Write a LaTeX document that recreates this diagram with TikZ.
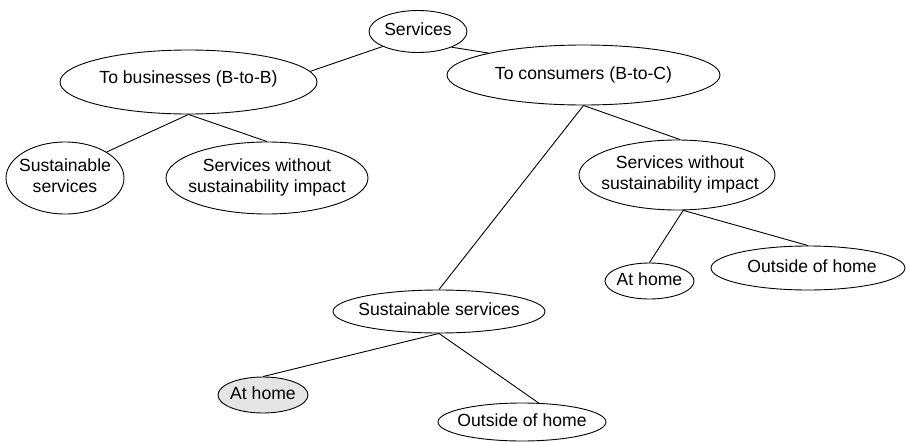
\documentclass[tikz,border=0pt]{standalone}
\usepackage{fontspec}
\setmainfont{Liberation Sans}
\usetikzlibrary{shapes.geometric}
% #1: twice the upward shift of the text
\newcommand\eltext[2][0pt]{\raisebox{#1}{\makebox[0pt]{\begin{tabular}{@{}c@{}}#2\end{tabular}}}}
\begin{document}
\begin{tikzpicture}[x=1pt,y=-1pt,
  ell/.style={draw, ellipse, inner sep=0pt, line width=0.9pt,
    font=\fontsize{17.6}{21}\selectfont},
  link/.style={line width=0.9pt}]
\useasboundingbox (0,0) rectangle (906,442);
\node[ell, minimum width=98, minimum height=42] (srv) at (418,31.5) {\eltext{Services}};
\node[ell, minimum width=257, minimum height=64] (b2b) at (188.5,82) {\eltext[12pt]{To businesses (B-to-B)}};
\node[ell, minimum width=273, minimum height=60] (b2c) at (583.5,75) {\eltext{To consumers (B-to-C)}};
\node[ell, minimum width=118, minimum height=72] (bss) at (65,178) {\eltext[8pt]{Sustainable\\services}};
\node[ell, minimum width=202, minimum height=72] (bnon) at (267,178) {\eltext{Services without\\sustainability impact}};
\node[ell, minimum width=196, minimum height=70] (cnon) at (677,175) {\eltext{\hspace{6pt}Services without\\\hspace{6pt}sustainability impact}};
\node[ell, minimum width=89, minimum height=36] (cah) at (649.5,281) {\eltext{At home}};
\node[ell, minimum width=194, minimum height=44] (cout) at (808,268) {\eltext{\hspace{8pt}Outside of home}};
\node[ell, minimum width=212, minimum height=43] (csus) at (439,311.5) {\eltext{Sustainable services}};
\node[ell, minimum width=90, minimum height=36, fill=black!10] (bah) at (263,395) {\eltext{At home}};
\node[ell, minimum width=168, minimum height=38] (bout) at (522,422) {\eltext{Outside of home}};
\draw[link] (srv.203) -- (b2b.5);
\draw[link] (srv.335) -- (b2c.167);
\draw[link] (b2b.south) -- (bss.32);
\draw[link] (b2b.south) -- (bnon.north);
\draw[link] (b2c.south) -- (cnon.85);
\draw[link] (b2c.south) -- (csus.north);
\draw[link] (cnon.-80) -- (cah.north);
\draw[link] (cnon.-80) -- (cout.north);
\draw[link] (csus.south) -- (bah.north);
\draw[link] (csus.south) -- (bout.49);
\end{tikzpicture}
\end{document}
